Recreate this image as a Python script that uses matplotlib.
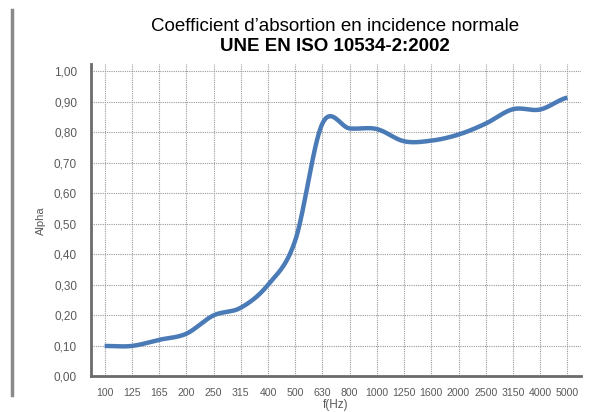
import numpy as np
import matplotlib.pyplot as plt
from matplotlib.lines import Line2D

plt.rcParams['font.family'] = ['Liberation Sans', 'DejaVu Sans']

freqs = ['100', '125', '165', '200', '250', '315', '400', '500', '630', '800',
         '1000', '1250', '1600', '2000', '2500', '3150', '4000', '5000']
alpha = [0.10, 0.10, 0.12, 0.14, 0.20, 0.225, 0.30, 0.445, 0.828, 0.812,
         0.81, 0.77, 0.772, 0.792, 0.828, 0.875, 0.874, 0.913]
yticks = [0.0, 0.1, 0.2, 0.3, 0.4, 0.5, 0.6, 0.7, 0.8, 0.9, 1.0]


def smooth(y, n=30):
    # catmull-rom spline through the points (like Excel smoothed line)
    p = np.concatenate([[y[0]], y, [y[-1]]])
    xs, ys = [], []
    for i in range(len(y) - 1):
        p0, p1, p2, p3 = p[i], p[i + 1], p[i + 2], p[i + 3]
        t = np.linspace(0, 1, n, endpoint=False)
        v = 0.5 * (2 * p1 + (-p0 + p2) * t + (2 * p0 - 5 * p1 + 4 * p2 - p3) * t ** 2
                   + (-p0 + 3 * p1 - 3 * p2 + p3) * t ** 3)
        xs.extend(i + t)
        ys.extend(v)
    xs.append(len(y) - 1)
    ys.append(y[-1])
    return np.array(xs), np.array(ys)


fig = plt.figure(figsize=(5.89, 4.12), dpi=100)
ax = fig.add_axes([0.1545, 0.0862, 0.832, 0.7585])

x = np.arange(len(freqs))
sx, sy = smooth(np.array(alpha))
ax.plot(sx, sy, color='#4a7bb7', lw=3.2, solid_capstyle='butt', zorder=3)

ax.set_xlim(-0.5, len(freqs) - 0.5)
ax.set_ylim(0, 1.023)
ax.set_xticks(x)
ax.set_xticklabels(freqs)
ax.set_yticks(yticks)
ax.yaxis.set_major_formatter(plt.FuncFormatter(lambda v, p: ('%.2f' % v).replace('.', ',')))
ax.tick_params(length=0, labelcolor='#5a5a5a')
ax.tick_params(axis='y', pad=10, labelsize=8.5)
ax.tick_params(axis='x', pad=8, labelsize=7.6)

ax.grid(True, color='#9a9a9a', linestyle=(0, (1, 1)), lw=0.8)
ax.set_axisbelow(True)
for s in ['top', 'right']:
    ax.spines[s].set_visible(False)
for s in ['left', 'bottom']:
    ax.spines[s].set_color('#6b6b6b')
    ax.spines[s].set_linewidth(2)

ax.set_ylabel('Alpha', fontsize=8, color='#5a5a5a', labelpad=6)
ax.set_xlabel('f(Hz)', fontsize=8.5, color='#5a5a5a', labelpad=1)

fig.text(0.569, 0.935, 'Coefficient d\u2019absortion en incidence normale',
         ha='center', va='center', fontsize=13.5)
fig.text(0.569, 0.888, 'UNE EN ISO 10534-2:2002',
         ha='center', va='center', fontsize=13.5, fontweight='bold')

fig.add_artist(Line2D([12 / 589, 12 / 589], [1 - 10 / 412, 1 - 395 / 412],
                      color='#8a8a8a', lw=2.5, transform=fig.transFigure))

fig.savefig('out.png', dpi=100)
